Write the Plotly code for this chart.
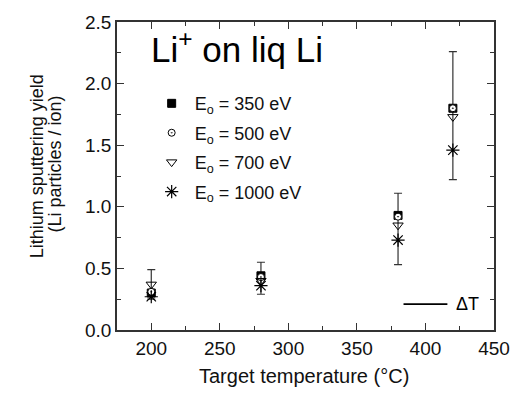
import plotly.graph_objects as go

temps = [200, 280, 380, 420]
y350 = [0.30, 0.44, 0.93, 1.80]
y500 = [0.31, 0.43, 0.92, 1.80]
y700 = [0.37, 0.40, 0.85, 1.73]
y1000 = [0.27, 0.36, 0.73, 1.46]
err_plus = [0.12, 0.15, 0.26, 0.53]
err_minus = [0.12, 0.11, 0.32, 0.51]
labels = ["E<sub>o</sub> = 350 eV", "E<sub>o</sub> = 500 eV",
          "E<sub>o</sub> = 700 eV", "E<sub>o</sub> = 1000 eV"]
dT_x = [384, 416]
dT_y = [0.21, 0.21]

FONT = "Liberation Sans, Arial, sans-serif"
fig = go.Figure()

fig.add_trace(go.Scatter(
    x=temps, y=y700, mode="markers", showlegend=False, hoverinfo="skip",
    marker=dict(size=1, color="rgba(0,0,0,0)"),
    error_y=dict(type="data", symmetric=False, array=err_plus, arrayminus=err_minus,
                 color="#333", thickness=1.2, width=4)))

fig.add_trace(go.Scatter(x=temps, y=y350, mode="markers", name=labels[0], legendgroup="a",
                         marker=dict(symbol="square", size=8, color="black",
                                     line=dict(color="black", width=1))))
fig.add_trace(go.Scatter(x=temps, y=y500, mode="markers", name=labels[1], legendgroup="b",
                         marker=dict(symbol="circle-dot", size=7, color="white",
                                     line=dict(color="black", width=1))))
fig.add_trace(go.Scatter(x=temps, y=y700, mode="markers", name=labels[2], legendgroup="c",
                         marker=dict(symbol="triangle-down-open", size=9, color="black",
                                     line=dict(width=1))))
fig.add_trace(go.Scatter(x=temps, y=y1000, mode="markers", name=labels[3], legendgroup="d",
                         marker=dict(symbol="asterisk-open", size=11, color="black",
                                     line=dict(width=1.2))))

# Delta T scale bar
fig.add_trace(go.Scatter(x=dT_x, y=dT_y, mode="lines", showlegend=False, hoverinfo="skip",
                         line=dict(color="black", width=1.8)))

axis_common = dict(showline=True, linecolor="#333", linewidth=1.5, mirror="ticks",
                   ticks="inside", ticklen=7, tickcolor="#333", tickwidth=1.2,
                   showgrid=False, zeroline=False,
                   tickfont=dict(family=FONT, size=19, color="#111"))

fig.update_xaxes(range=[175, 450], dtick=50, tick0=0,
                 minor=dict(ticks="inside", dtick=25, ticklen=4, tickcolor="#333"),
                 **axis_common)
fig.update_yaxes(range=[0, 2.5], dtick=0.5, tickformat=".1f",
                 minor=dict(ticks="inside", dtick=0.25, ticklen=4, tickcolor="#333"),
                 **axis_common)

# axis titles
fig.add_annotation(x=0.497, y=-0.148, xref="paper", yref="paper", xanchor="center", yanchor="middle",
                   text="Target temperature (°C)", showarrow=False,
                   font=dict(family=FONT, size=20, color="#111"))
fig.add_annotation(x=-0.212, y=0.532, xref="paper", yref="paper", xanchor="center", yanchor="middle",
                   text="Lithium sputtering yield", showarrow=False, textangle=-90,
                   font=dict(family=FONT, size=18, color="#111"))
fig.add_annotation(x=-0.165, y=0.54, xref="paper", yref="paper", xanchor="center", yanchor="middle",
                   text="(Li particles / ion)", showarrow=False, textangle=-90,
                   font=dict(family=FONT, size=18, color="#111"))

fig.add_annotation(x=0.085, y=0.92, xref="paper", yref="paper", xanchor="left", yanchor="middle",
                   text="Li<sup>+</sup> on liq Li", showarrow=False,
                   font=dict(family=FONT, size=35, color="black"))

fig.add_annotation(x=421, y=0.21, xref="x", yref="y", xanchor="left", yanchor="middle",
                   text="ΔT", showarrow=False,
                   font=dict(family=FONT, size=18, color="black"))

fig.update_layout(
    width=522, height=394,
    margin=dict(l=117, r=17, t=20, b=64),
    paper_bgcolor="white", plot_bgcolor="white",
    font=dict(family=FONT, color="#111"),
    showlegend=True,
    legend=dict(x=0.084, y=0.795, xanchor="left", yanchor="top",
                bgcolor="rgba(0,0,0,0)", font=dict(family=FONT, size=18),
                tracegroupgap=3, itemwidth=36),
)

fig.write_html("out.html", config={"displayModeBar": False},
               post_script="document.body.style.margin='0';")
